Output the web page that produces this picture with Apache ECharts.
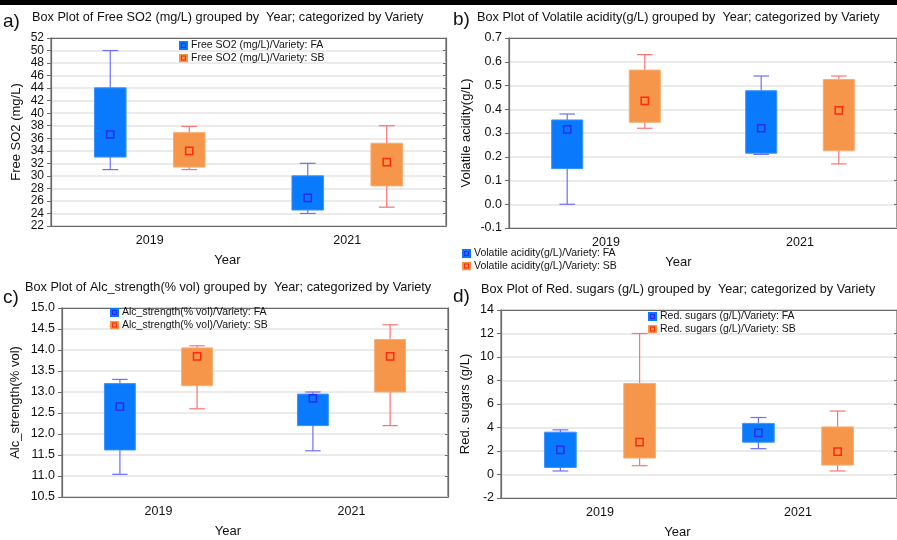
<!DOCTYPE html>
<html>
<head>
<meta charset="utf-8">
<script src="https://cdn.jsdelivr.net/npm/echarts@6/dist/echarts.min.js"></script>
<style>
  html, body { margin: 0; padding: 0; background: #ffffff; }
  #chart { width: 897px; height: 540px; }
</style>
</head>
<body>
<div id="chart"></div>
<script>
// Categories shared by all four panels
const years = ['2019', '2021'];

// Each row: [min, 25th pct, median, 75th pct, max] for 2019 and 2021
const so2FA = [[31.0, 33.0, 36.6, 44.05, 50.0], [24.0, 24.55, 26.5, 30.0, 32.0]];
const so2SB = [[31.0, 31.4, 34.0, 36.9, 37.9], [25.0, 28.4, 32.2, 35.2, 38.0]];

const vaFA = [[0.0, 0.15, 0.315, 0.355, 0.38], [0.21, 0.215, 0.32, 0.478, 0.54]];
const vaSB = [[0.32, 0.345, 0.435, 0.565, 0.63], [0.17, 0.225, 0.395, 0.525, 0.54]];

const alcFA = [[11.04, 11.62, 12.65, 13.2, 13.3], [11.6, 12.2, 12.85, 12.95, 13.0]];
const alcSB = [[12.6, 13.15, 13.85, 14.05, 14.1], [12.2, 13.0, 13.85, 14.25, 14.6]];

const sugFA = [[0.3, 0.6, 2.1, 3.6, 3.8], [2.2, 2.75, 3.55, 4.35, 4.85]];
const sugSB = [[0.75, 1.4, 2.75, 7.75, 12.0], [0.3, 0.8, 1.95, 4.05, 5.4]];

// Axis ranges [min, max, interval]
const so2Axis = [22, 52, 2];
const vaAxis = [-0.1, 0.7, 0.1];
const alcAxis = [10.5, 15, 0.5];
const sugAxis = [-2, 14, 2];

const FONT = "'Liberation Sans', Arial, sans-serif";
const INK = '#111111';
const FRAME = '#6a6a6a';
const GRIDLINE = '#e4e4e4';

const FA_STYLE = { fill: '#0a7afc', edge: '#3a93ff', whisker: '#6e6eff', marker: '#2a2cf0' };
const SB_STYLE = { fill: '#f5964b', edge: '#f8ae74', whisker: '#ff7272', marker: '#ff2a12' };

function legendIcon(st) {
  const svg = "<svg xmlns='http://www.w3.org/2000/svg' width='10' height='10'>" +
    "<rect width='10' height='10' fill='" + st.fill + "'/>" +
    "<rect x='2.8' y='2.8' width='4.4' height='4.4' fill='none' stroke='" + st.marker + "' stroke-width='1.3'/></svg>";
  return 'image://data:image/svg+xml;charset=utf-8,' + encodeURIComponent(svg);
}

// Box + whiskers + median square, positioned through the axes
function boxRenderer(side, st) {
  return function (params, api) {
    const cat = api.value(0);
    const band = api.size([1, 0])[0];
    const cx = api.coord([cat, api.value(3)])[0] + side * 0.2 * band;
    const y = i => api.coord([cat, api.value(i)])[1];
    const yMin = y(1), yQ1 = y(2), yMed = y(3), yQ3 = y(4), yMax = y(5);
    const half = 0.08 * band, cap = 0.04 * band, m = 3.6;
    const wl = { stroke: st.whisker, lineWidth: 1.2 };
    return {
      type: 'group',
      children: [
        { type: 'line', shape: { x1: cx, y1: yMax, x2: cx, y2: yMin }, style: wl },
        { type: 'line', shape: { x1: cx - cap, y1: yMax, x2: cx + cap, y2: yMax }, style: wl },
        { type: 'line', shape: { x1: cx - cap, y1: yMin, x2: cx + cap, y2: yMin }, style: wl },
        { type: 'rect', shape: { x: cx - half, y: yQ3, width: 2 * half, height: yQ1 - yQ3 },
          style: { fill: st.fill, stroke: st.edge, lineWidth: 1 } },
        { type: 'rect', shape: { x: cx - m, y: yMed - m, width: 2 * m, height: 2 * m },
          style: { fill: st.fill, stroke: st.marker, lineWidth: 1.5 } }
      ]
    };
  };
}

const panels = [
  { letter: 'a)', title: 'Box Plot of Free SO2 (mg/L) grouped by  Year; categorized by Variety',
    yName: 'Free SO2 (mg/L)', label: 'Free SO2 (mg/L)', fa: so2FA, sb: so2SB, axis: so2Axis, dec: 0,
    grid: { left: 51, top: 38, width: 395, height: 188 }, yNameGap: 28, yearShift: 42, labelSize: 12,
    legend: { left: 179, top: 40 }, letterPos: [3, 12], titlePos: [32, 11] },
  { letter: 'b)', title: 'Box Plot of Volatile acidity(g/L) grouped by  Year; categorized by Variety',
    yName: 'Volatile acidity(g/L)', label: 'Volatile acidity(g/L)', fa: vaFA, sb: vaSB, axis: vaAxis, dec: 1,
    grid: { left: 509, top: 38, width: 391, height: 190 }, yNameGap: 36, yearShift: 49, labelSize: 12.5,
    legend: { left: 462, top: 248 }, letterPos: [453, 10], titlePos: [477, 11] },
  { letter: 'c)', title: 'Box Plot of Alc_strength(% vol) grouped by  Year; categorized by Variety',
    yName: 'Alc_strength(% vol)', label: 'Alc_strength(% vol)', fa: alcFA, sb: alcSB, axis: alcAxis, dec: 1,
    grid: { left: 62, top: 308, width: 386, height: 189 }, yNameGap: 40, yearShift: 54, labelSize: 12.5,
    legend: { left: 110, top: 307 }, letterPos: [3, 288], titlePos: [25, 281] },
  { letter: 'd)', title: 'Box Plot of Red. sugars (g/L) grouped by  Year; categorized by Variety',
    yName: 'Red. sugars (g/L)', label: 'Red. sugars (g/L)', fa: sugFA, sb: sugSB, axis: sugAxis, dec: 0,
    grid: { left: 501, top: 310, width: 401, height: 189 }, yNameGap: 29, yearShift: 43, labelSize: 12.5,
    legend: { left: 648, top: 311 }, letterPos: [453, 287], titlePos: [481, 283] }
];

const option = {
  backgroundColor: '#ffffff',
  animation: false,
  textStyle: { fontFamily: FONT },
  title: [], grid: [], xAxis: [], yAxis: [], legend: [], series: [],
  graphic: [
    { type: 'rect', left: 0, top: 0, shape: { width: 897, height: 5 }, style: { fill: '#000000' } }
  ]
};

panels.forEach((p, i) => {
  option.title.push({
    text: p.title, left: p.titlePos[0], top: p.titlePos[1], padding: 0,
    textStyle: { fontFamily: FONT, fontSize: 12.7, fontWeight: 'normal', color: INK }
  });
  option.title.push({
    text: p.letter, left: p.letterPos[0], top: p.letterPos[1], padding: 0,
    textStyle: { fontFamily: FONT, fontSize: 19, fontWeight: 'normal', color: INK }
  });
  option.grid.push(Object.assign({ show: true, borderColor: FRAME, borderWidth: 1.2, containLabel: false }, p.grid));

  const [mn, mx, step] = p.axis;
  option.xAxis.push({
    gridIndex: i, type: 'category', data: years, position: 'bottom',
    name: 'Year', nameLocation: 'middle', nameGap: 28,
    nameTextStyle: { fontFamily: FONT, fontSize: 13, color: INK, padding: [0, p.yearShift, 0, 0] },
    axisLine: { onZero: false, lineStyle: { color: FRAME, width: 1.2 } },
    axisTick: { alignWithLabel: true, inside: true, length: 3, lineStyle: { color: FRAME } },
    axisLabel: { fontFamily: FONT, fontSize: 12.5, color: INK, margin: 8 },
    splitLine: { show: false }
  });
  option.xAxis.push({
    gridIndex: i, type: 'category', data: years, position: 'top',
    axisLine: { onZero: false, lineStyle: { color: FRAME, width: 1.2 } },
    axisTick: { alignWithLabel: true, inside: true, length: 3, lineStyle: { color: FRAME } },
    axisLabel: { show: false }, splitLine: { show: false }
  });
  option.yAxis.push({
    gridIndex: i, type: 'value', min: mn, max: mx, interval: step, position: 'left',
    name: p.yName, nameLocation: 'middle', nameGap: p.yNameGap,
    nameTextStyle: { fontFamily: FONT, fontSize: 13, color: INK },
    axisLine: { show: true, onZero: false, lineStyle: { color: FRAME, width: 1.2 } },
    axisTick: { show: true, length: 4, lineStyle: { color: FRAME } },
    axisLabel: { fontFamily: FONT, fontSize: p.labelSize, color: INK, margin: 7,
      formatter: v => Number(v).toFixed(p.dec) },
    splitLine: { show: true, lineStyle: { color: GRIDLINE, width: 1.5 } }
  });
  option.yAxis.push({
    gridIndex: i, type: 'value', min: mn, max: mx, interval: step, position: 'right',
    axisLine: { show: true, onZero: false, lineStyle: { color: FRAME, width: 1.2 } },
    axisTick: { show: true, inside: true, length: 3, lineStyle: { color: FRAME } },
    axisLabel: { show: false }, splitLine: { show: false }
  });

  const nameFA = p.label + '/Variety: FA';
  const nameSB = p.label + '/Variety: SB';
  option.legend.push({
    orient: 'vertical', left: p.legend.left, top: p.legend.top, padding: 0,
    itemWidth: 9, itemHeight: 9, itemGap: 1.5,
    textStyle: { fontFamily: FONT, fontSize: 10.5, color: INK, padding: [0, 0, 0, -2] },
    data: [
      { name: nameFA, icon: legendIcon(FA_STYLE) },
      { name: nameSB, icon: legendIcon(SB_STYLE) }
    ]
  });

  [[nameFA, p.fa, -1, FA_STYLE], [nameSB, p.sb, 1, SB_STYLE]].forEach(([name, rows, side, st]) => {
    option.series.push({
      name: name, type: 'custom', xAxisIndex: 2 * i, yAxisIndex: 2 * i,
      itemStyle: { color: st.fill },
      encode: { x: 0, y: [1, 2, 3, 4, 5] },
      data: rows.map((r, k) => [k].concat(r)),
      renderItem: boxRenderer(side, st)
    });
  });
});

const chart = echarts.init(document.getElementById('chart'), null, { renderer: 'canvas' });
chart.setOption(option);
</script>
</body>
</html>
